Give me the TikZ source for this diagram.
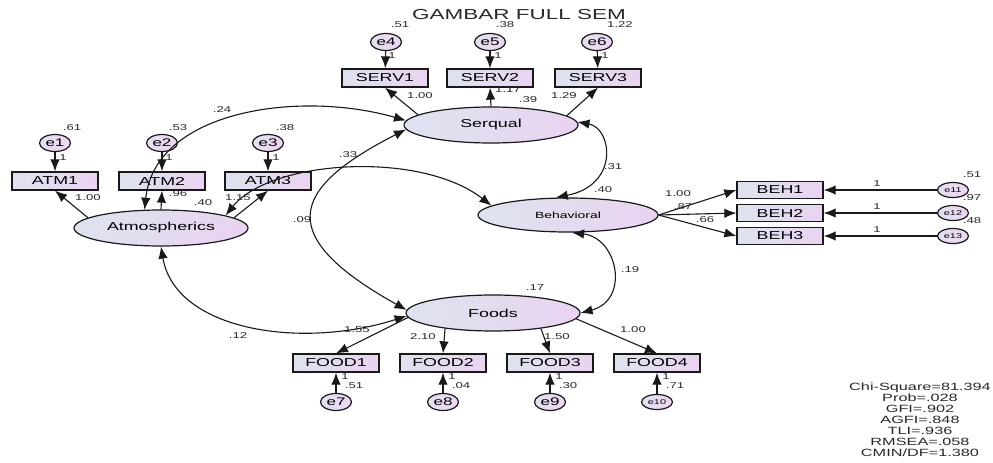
\documentclass[tikz,border=0pt]{standalone}
\usepackage{fontspec}
\setmainfont{Liberation Sans}[FakeStretch=1.55]
\usetikzlibrary{arrows.meta,shapes.geometric}
\definecolor{cL}{RGB}{222,227,238}
\definecolor{cR}{RGB}{233,211,241}
\definecolor{eL}{RGB}{228,224,240}
\definecolor{eR}{RGB}{236,214,242}
\definecolor{ln}{RGB}{25,25,25}
\definecolor{tx}{RGB}{40,40,40}
\begin{document}
\begin{tikzpicture}[x=1pt,y=-1pt,
  >={Latex[length=12pt,width=9.5pt]},
  box/.style={draw=ln, line width=1.3pt, left color=cL, right color=cR, minimum width=86pt, minimum height=18pt, inner sep=0pt, font=\fontsize{11.5}{12}\selectfont},
  lat/.style={ellipse, draw=ln, line width=1.2pt, left color=cL, right color=cR, minimum width=174pt, minimum height=36pt, inner sep=0pt, font=\fontsize{11.5}{12}\selectfont},
  err/.style={ellipse, draw=ln, line width=1.2pt, left color=eL, right color=eR, minimum width=31pt, minimum height=17pt, inner sep=0pt, font=\fontsize{11}{12}\selectfont},
  errs/.style={err, minimum height=15pt, font=\fontsize{7}{8}\selectfont},
  lbl/.style={inner sep=0pt, text=tx, font=\fontsize{8.5}{10}\selectfont},
  ar/.style={->, draw=ln, line width=1.1pt},
  cv/.style={<->, draw=ln, line width=1.1pt}]
\useasboundingbox (0,0) rectangle (993,463);

% title
\node[text=tx, font=\fontsize{14.5}{16}\selectfont] (title) at (519,15) {GAMBAR FULL SEM};

% latent variables
\node[lat] (atm) at (161,228) {Atmospherics};
\node[lat] (ser) at (491,125) {Serqual};
\node[lat, minimum width=180pt, minimum height=34pt, font=\fontsize{9}{10}\selectfont] (beh) at (568,215) {Behavioral};
\node[lat] (foods) at (493,313) {Foods};

% indicators
\node[box] (atm1) at (55,181) {ATM1};
\node[box] (atm2) at (162,181) {ATM2};
\node[box] (atm3) at (268,181) {ATM3};
\node[box] (serv1) at (385,78) {SERV1};
\node[box] (serv2) at (490,78) {SERV2};
\node[box] (serv3) at (598,78) {SERV3};
\node[box, minimum height=17pt] (beh1) at (780,190) {BEH1};
\node[box, minimum height=17pt] (beh2) at (780,213) {BEH2};
\node[box, minimum height=17pt] (beh3) at (780,236) {BEH3};
\node[box] (food1) at (336,363) {FOOD1};
\node[box] (food2) at (443,363) {FOOD2};
\node[box] (food3) at (550,363) {FOOD3};
\node[box] (food4) at (657,363) {FOOD4};

% errors
\node[err] (e1) at (55,143) {e1};
\node[err] (e2) at (162,143) {e2};
\node[err] (e3) at (268,143) {e3};
\node[err] (e4) at (386,42) {e4};
\node[err] (e5) at (490,42) {e5};
\node[err] (e6) at (597,42) {e6};
\node[err] (e7) at (336,402) {e7};
\node[err] (e8) at (443,402) {e8};
\node[err] (e9) at (550,402) {e9};
\node[errs] (e10) at (657,402) {e10};
\node[errs] (e11) at (953,190) {e11};
\node[errs] (e12) at (953,213) {e12};
\node[errs] (e13) at (953,236) {e13};

% error paths
\draw[ar] (e1) -- (atm1);
\draw[ar] (e2) -- (atm2);
\draw[ar] (e3) -- (atm3);
\draw[ar] (e4) -- (serv1);
\draw[ar] (e5) -- (serv2);
\draw[ar] (e6) -- (serv3);
\draw[ar] (e7) -- (food1);
\draw[ar] (e8) -- (food2);
\draw[ar] (e9) -- (food3);
\draw[ar] (e10) -- (food4);
\draw[ar] (e11) -- (beh1);
\draw[ar] (e12) -- (beh2);
\draw[ar] (e13) -- (beh3);

% loadings
\draw[ar] (atm.172) -- (atm1.south);
\draw[ar] (atm.north) -- (atm2.south);
\draw[ar] (atm.8) -- (atm3.south);
\draw[ar] (ser.172) -- (serv1.south);
\draw[ar] (ser.north) -- (serv2.south);
\draw[ar] (ser.7) -- (serv3.south);
\draw[ar] (beh.east) -- (beh1.west);
\draw[ar] (beh.east) -- (beh2.west);
\draw[ar] (beh.east) -- (beh3.west);
\draw[ar] (foods.183) -- (food1.north);
\draw[ar] (foods.198) -- (food2.north);
\draw[ar] (foods.342) -- (food3.north);
\draw[ar] (foods.356) -- (food4.north);

% covariances
\draw[cv] (atm.132) .. controls (155,110) and (300,90) .. (ser.177);
\draw[cv] (atm.11) .. controls (270,160) and (420,150) .. (beh.173);
\draw[cv] (ser.183) .. controls (287,190) and (276,237) .. (foods.178);
\draw[cv] (atm.south) .. controls (175,330) and (300,350) .. (foods.182);
\draw[cv] (ser.2) .. controls (612,128) and (620,185) .. (beh.125);
\draw[cv] (beh.283) .. controls (618,238) and (630,300) .. (foods.0);

% labels: variances
\node[lbl] (l1) at (72,128) {.61};
\node[lbl] (l2) at (178,128) {.53};
\node[lbl] (l3) at (285,128) {.38};
\node[lbl] (l4) at (400,25) {.51};
\node[lbl] (l5) at (505,25) {.38};
\node[lbl] (l6) at (620,25) {1.22};
\node[lbl] (l7) at (203,203) {.40};
\node[lbl] (l8) at (528,100) {.39};
\node[lbl] (l9) at (603,190) {.40};
\node[lbl] (l10) at (535,288) {.17};
\node[lbl] (l11) at (972,175) {.51};
\node[lbl] (l12) at (972,198) {.97};
\node[lbl] (l13) at (972,221) {.48};
\node[lbl] (l14) at (354,386) {.51};
\node[lbl] (l15) at (461,386) {.04};
\node[lbl] (l16) at (568,386) {.30};
\node[lbl] (l17) at (675,386) {.71};
% labels: fixed 1
\node[lbl] (f1) at (63,158) {1};
\node[lbl] (f2) at (169,158) {1};
\node[lbl] (f3) at (276,158) {1};
\node[lbl] (f4) at (392,56) {1};
\node[lbl] (f5) at (498,56) {1};
\node[lbl] (f6) at (605,56) {1};
\node[lbl] (f7) at (877,184) {1};
\node[lbl] (f8) at (877,207) {1};
\node[lbl] (f9) at (877,230) {1};
\node[lbl] (f10) at (345,377) {1};
\node[lbl] (f11) at (452,377) {1};
\node[lbl] (f12) at (559,377) {1};
\node[lbl] (f13) at (666,377) {1};
% labels: loadings
\node[lbl] (w1) at (88,198) {1.00};
\node[lbl] (w2) at (178,194) {.96};
\node[lbl] (w3) at (238,198) {1.15};
\node[lbl] (w4) at (420,96) {1.00};
\node[lbl] (w5) at (508,90) {1.17};
\node[lbl] (w6) at (564,96) {1.29};
\node[lbl] (w7) at (678,194) {1.00};
\node[lbl] (w8) at (683,207) {.87};
\node[lbl] (w9) at (705,220) {.66};
\node[lbl] (w10) at (357,330) {1.55};
\node[lbl] (w11) at (423,337) {2.10};
\node[lbl] (w12) at (557,337) {1.50};
\node[lbl] (w13) at (633,330) {1.00};
% labels: covariances
\node[lbl] (c1) at (222,110) {.24};
\node[lbl] (c2) at (348,155) {.33};
\node[lbl] (c3) at (302,220) {.09};
\node[lbl] (c4) at (238,336) {.12};
\node[lbl] (c5) at (613,167) {.31};
\node[lbl] (c6) at (630,270) {.19};

% fit statistics
\node[align=center, inner sep=0pt, text=tx, font=\fontsize{10.5}{11}\selectfont] (fit) at (920,420)
  {Chi-Square=81.394\\Prob=.028\\GFI=.902\\AGFI=.848\\TLI=.936\\RMSEA=.058\\CMIN/DF=1.380};
\end{tikzpicture}
\end{document}
